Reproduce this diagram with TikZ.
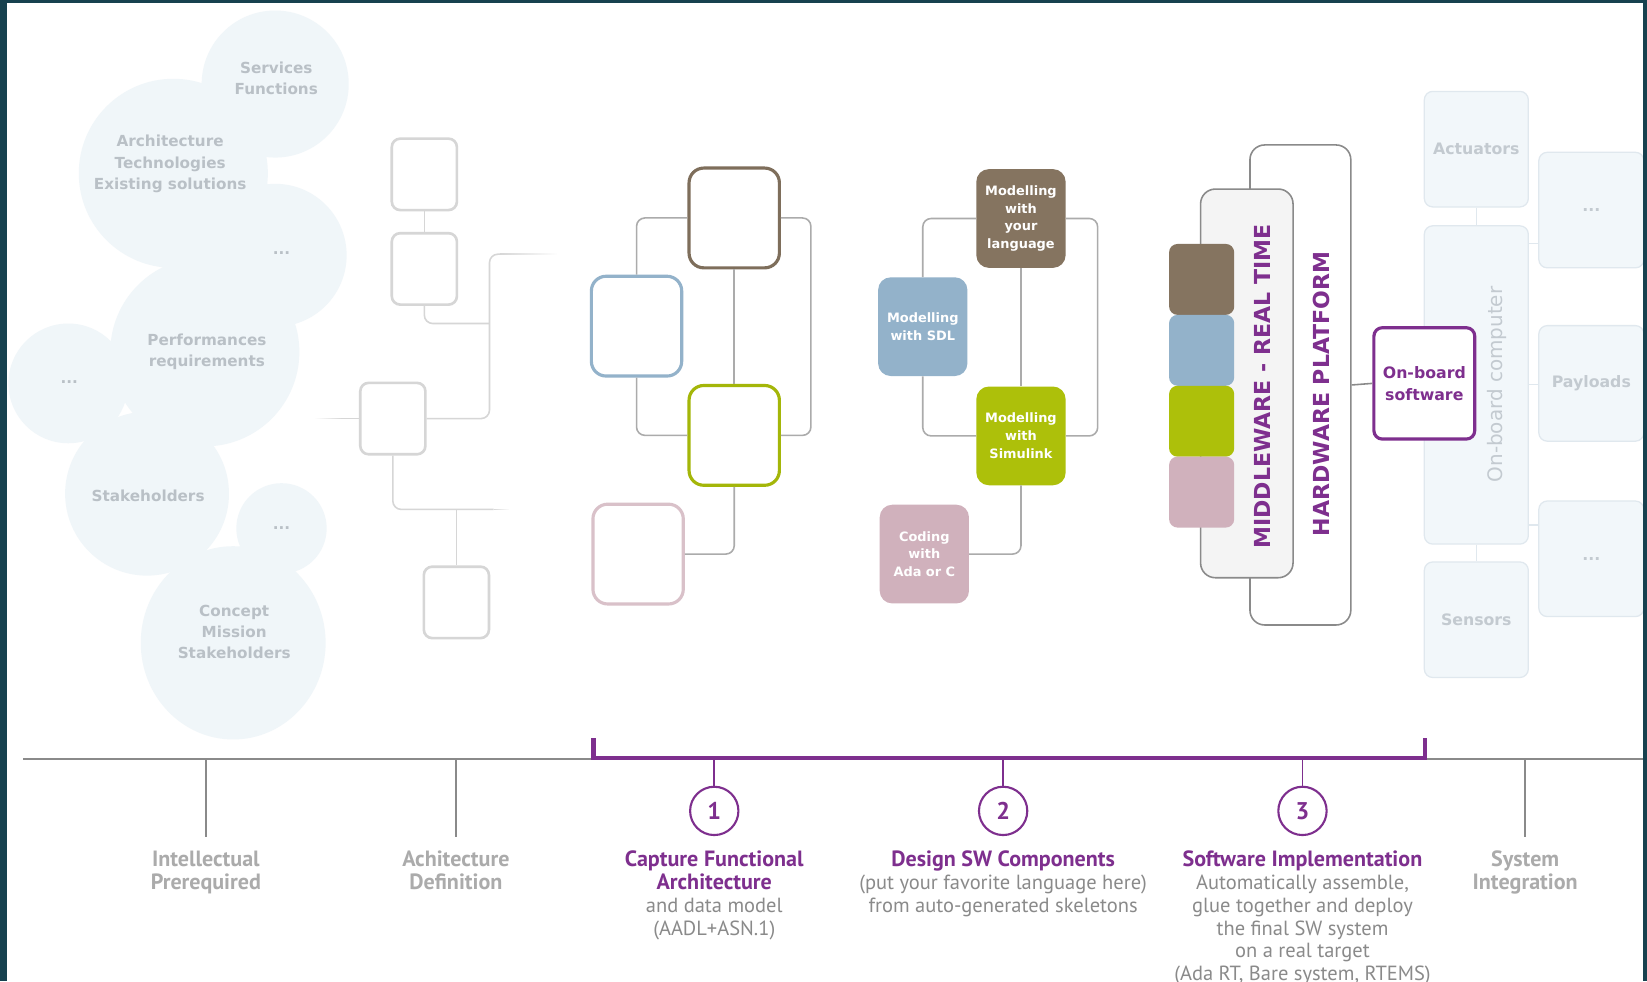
\documentclass[tikz,border=0pt]{standalone}
\usepackage{fontspec}
\setmainfont{DejaVu Sans}
\newfontfamily\ptsans{PT Sans}
\usetikzlibrary{positioning,fadings}

\definecolor{framec}{HTML}{17414F}
\definecolor{bubfill}{HTML}{F0F6F9}
\definecolor{bubtext}{HTML}{B9C0C6}
\definecolor{lgray}{HTML}{D6D6D6}
\definecolor{mgray}{HTML}{ABABAB}
\definecolor{dgray}{HTML}{8A8A8A}
\definecolor{cbrown}{HTML}{857460}
\definecolor{cblue}{HTML}{93B2CA}
\definecolor{cgreen}{HTML}{ADC00A}
\definecolor{cpink}{HTML}{D0B1BC}
\definecolor{cpurple}{HTML}{7E2F8E}
\definecolor{mwfill}{HTML}{F4F4F4}
\definecolor{ffill}{HTML}{F2F7FA}
\definecolor{fdraw}{HTML}{E0E8EE}
\definecolor{ftext}{HTML}{C3CAD0}

\begin{document}
\begin{tikzpicture}[x=1pt,y=-1pt,
  bubble/.style={fill=bubfill},
  btext/.style={text=bubtext,font=\fontsize{14.5}{20}\selectfont\bfseries,align=center,inner sep=0pt},
  gbox/.style={draw=lgray,line width=2.5pt,fill=white,rounded corners=8pt,minimum width=62pt,minimum height=68pt,inner sep=0pt},
  lline/.style={draw=lgray,line width=1.5pt,rounded corners=8pt},
  obox/.style={line width=3pt,fill=white,rounded corners=14pt,minimum width=86pt,minimum height=95pt,inner sep=0pt},
  mline/.style={draw=mgray,line width=1.5pt,rounded corners=8pt},
  fbox/.style={rounded corners=12pt,minimum width=85pt,minimum height=94pt,inner sep=0pt,text=white,font=\fontsize{12.3}{17}\selectfont\bfseries,align=center},
  blk/.style={rounded corners=8pt,minimum width=62pt,minimum height=67.5pt,inner sep=0pt},
  vtext/.style={rotate=90,text=cpurple,font=\fontsize{21}{21}\selectfont\bfseries,inner sep=0pt},
  faint/.style={draw=fdraw,fill=ffill,line width=1.2pt,rounded corners=8pt,inner sep=0pt,minimum width=99pt,minimum height=110pt,text=ftext,font=\fontsize{15}{20}\selectfont\bfseries},
  flink/.style={draw=fdraw,line width=1.5pt},
  tick/.style={draw=dgray,line width=1.5pt},
  step1/.style={font=\ptsans\fontsize{19.5}{21.7}\selectfont,align=center,anchor=north,inner sep=0pt},
  boldcap/.style={font=\ptsans\bfseries\fontsize{21}{21.7}\selectfont},
  num/.style={circle,draw=cpurple,line width=2pt,minimum size=46pt,inner sep=0pt,text=cpurple,font=\ptsans\fontsize{23}{23}\selectfont\bfseries}]
\useasboundingbox (0,0) rectangle (1568,934);
\fill[white] (0,0) rectangle (1568,934);

% bubbles
\foreach \cx/\cy/\r in {262/80/70, 165/165/90, 262/243/68, 195/335/90, 65/365/57, 140/470/78, 268/503/43}
  \fill[bubble] (\cx,\cy) circle (\r);
\fill[bubble] (222,612) ellipse (88 and 92);
\node[btext] (sf) at (263,75) {Services\\Functions};
\node[btext] (at) at (162,156) {Architecture\\Technologies\\Existing solutions};
\node[btext] (d1) at (268,241) {...};
\node[btext] (pr) at (197,335) {Performances\\requirements};
\node[btext] (d2) at (66,364) {...};
\node[btext] (sh) at (141,472) {Stakeholders};
\node[btext] (d3) at (268,503) {...};
\node[btext] (cm) at (223,602) {Concept\\Mission\\Stakeholders};

% grey structure
\node[gbox] (a1) at (404,166) {};
\node[gbox] (a2) at (404,256) {};
\node[gbox] (a3) at (374,398.5) {};
\node[gbox] (a4) at (434.5,573.5) {};
\coordinate (ja) at (466,308);
\coordinate (jb) at (476,242);
\coordinate (jb2) at (530,242);
\coordinate (jc) at (300,398.5);
\coordinate (jc2) at (325,398.5);
\coordinate (jd) at (470,485);
\coordinate (jd2) at (485,485);
\draw[lline] (a1) -- (a2);
\draw[lline] (a2.south) |- (ja);
\draw[lline] (jb) -| (ja) |- (a3.east);
\draw[lline,path fading=east] (jb) -- (jb2);
\draw[lline] (jc2) -- (a3.west);
\draw[lline,path fading=west] (jc) -- (jc2);
\draw[lline] (a3.south) |- (jd);
\draw[lline,path fading=east] (jd) -- (jd2);
\draw[lline] (a4.north) -- (a4.north |- jd);

% coloured outlines
\coordinate (rb) at (772,300);
\node[obox,draw=cbrown!95!black] (b1) at (699,207.5) {};
\node[obox,draw=cblue] (b2) at (606,310.5) {};
\node[obox,draw=cgreen!95!black] (b3) at (699,414.5) {};
\node[obox,draw=cpink!80!white] (b4) at (607.5,527.5) {};
\draw[mline] (b1.west) -| (b2.north);
\draw[mline] (b2.south) |- (b3.west);
\draw[mline] (b1.east) -| (rb) |- (b3.east);
\draw[mline] (b1.south) -- (b3.north);
\draw[mline] (b3.south) |- (b4.east);

% filled boxes
\coordinate (rc) at (1045,300);
\node[fbox,fill=cbrown] (c1) at (972,208) {Modelling\\with\\your\\language};
\node[fbox,fill=cblue] (c2) at (878.5,311) {Modelling\\with SDL};
\node[fbox,fill=cgreen] (c3) at (972,415) {Modelling\\with\\Simulink};
\node[fbox,fill=cpink] (c4) at (880,527.5) {Coding\\with\\Ada or C};
\draw[mline] (c1.west) -| (c2.north);
\draw[mline] (c2.south) |- (c3.west);
\draw[mline] (c1.east) -| (rc) |- (c3.east);
\draw[mline] (c1.south) -- (c3.north);
\draw[mline] (c3.south) |- (c4.east);

% middleware and hardware
\node[draw=dgray,line width=1.5pt,fill=white,rounded corners=14pt,minimum width=96pt,minimum height=457pt] (hw) at (1238,366.5) {};
\node[draw=dgray,line width=1.5pt,fill=mwfill,rounded corners=14pt,minimum width=88pt,minimum height=370pt] (mw) at (1187,365) {};
\node[blk,fill=cbrown] (k1) at (1144,266) {};
\node[blk,fill=cblue] (k2) at (1144,333.5) {};
\node[blk,fill=cgreen] (k3) at (1144,401) {};
\node[blk,fill=cpink] (k4) at (1144,468.5) {};
\node[vtext] (mwt) at (1202,368) {MIDDLEWARE - REAL TIME};
\node[vtext] (hwt) at (1258,375) {HARDWARE PLATFORM};

% system side
\node[faint] (act) at (1405.5,142) {Actuators};
\node[faint,minimum height=303pt] (obc) at (1405.5,366.5) {};
\node[faint] (sen) at (1405.5,590) {Sensors};
\node[faint,minimum width=100pt] (r1) at (1515,200) {...};
\node[faint,minimum width=100pt] (pay) at (1515,365) {Payloads};
\node[faint,minimum width=100pt] (r3) at (1515,532) {...};
\draw[flink] (act) -- (obc);
\draw[flink] (obc) -- (sen);
\foreach \yy in {232,366,500}
  \draw[flink] (obc.east |- 0,\yy) -- (r1.west |- 0,\yy);
\node[rotate=90,text=ftext,font=\fontsize{19}{19}\selectfont,inner sep=0pt] (obct) at (1425,366) {On-board computer};
\node[draw=cpurple,line width=3pt,fill=white,rounded corners=8pt,minimum width=96pt,minimum height=106pt,inner sep=0pt,text=cpurple,font=\fontsize{15}{21}\selectfont\bfseries,align=center] (obs) at (1356,365) {On-board\\software};
\draw[draw=dgray,line width=1.5pt] (hw.east) -- (obs.west);

% time line
\coordinate (brk) at (0,722);
\draw[draw=dgray,line width=2pt] (22,723) -- (1568,723);
\foreach \x in {196,434,1452}
  \draw[tick] (\x,723) -- (\x,797);
\draw[draw=cpurple,line width=4pt] (565,703) -- (565,722) -- (1357,722) -- (1357,703);
\node[num] (n1) at (680,772) {1};
\node[num] (n2) at (955,772) {2};
\node[num] (n3) at (1240,772) {3};
\foreach \n in {n1,n2,n3}
  \draw[draw=cpurple,line width=1.5pt] (\n.north) -- (\n.north |- brk);

\node[step1,boldcap,text=mgray] (l1) at (196,810) {Intellectual\\Prerequired};
\node[step1,boldcap,text=mgray] (l2) at (434,810) {Achitecture\\Definition};
\node[step1,text=dgray] (l3) at (680,810) {\textcolor{cpurple}{\bfseries\fontsize{21}{21.7}\selectfont Capture Functional}\\\textcolor{cpurple}{\bfseries\fontsize{21}{21.7}\selectfont Architecture}\\and data model\\(AADL+ASN.1)};
\node[step1,text=dgray] (l4) at (955,810) {\textcolor{cpurple}{\bfseries\fontsize{21}{21.7}\selectfont Design SW Components}\\(put your favorite language here)\\from auto-generated skeletons};
\node[step1,text=dgray] (l5) at (1240,810) {\textcolor{cpurple}{\bfseries\fontsize{21}{21.7}\selectfont Software Implementation}\\Automatically assemble,\\glue together and deploy\\the final SW system\\on a real target\\(Ada RT, Bare system, RTEMS)};
\node[step1,boldcap,text=mgray] (l6) at (1452,810) {System\\Integration};

% frame
\fill[framec] (0,0) rectangle (7,934);
\fill[framec] (0,0) rectangle (1568,3);
\fill[framec] (1564,0) rectangle (1568,934);
\end{tikzpicture}
\end{document}
